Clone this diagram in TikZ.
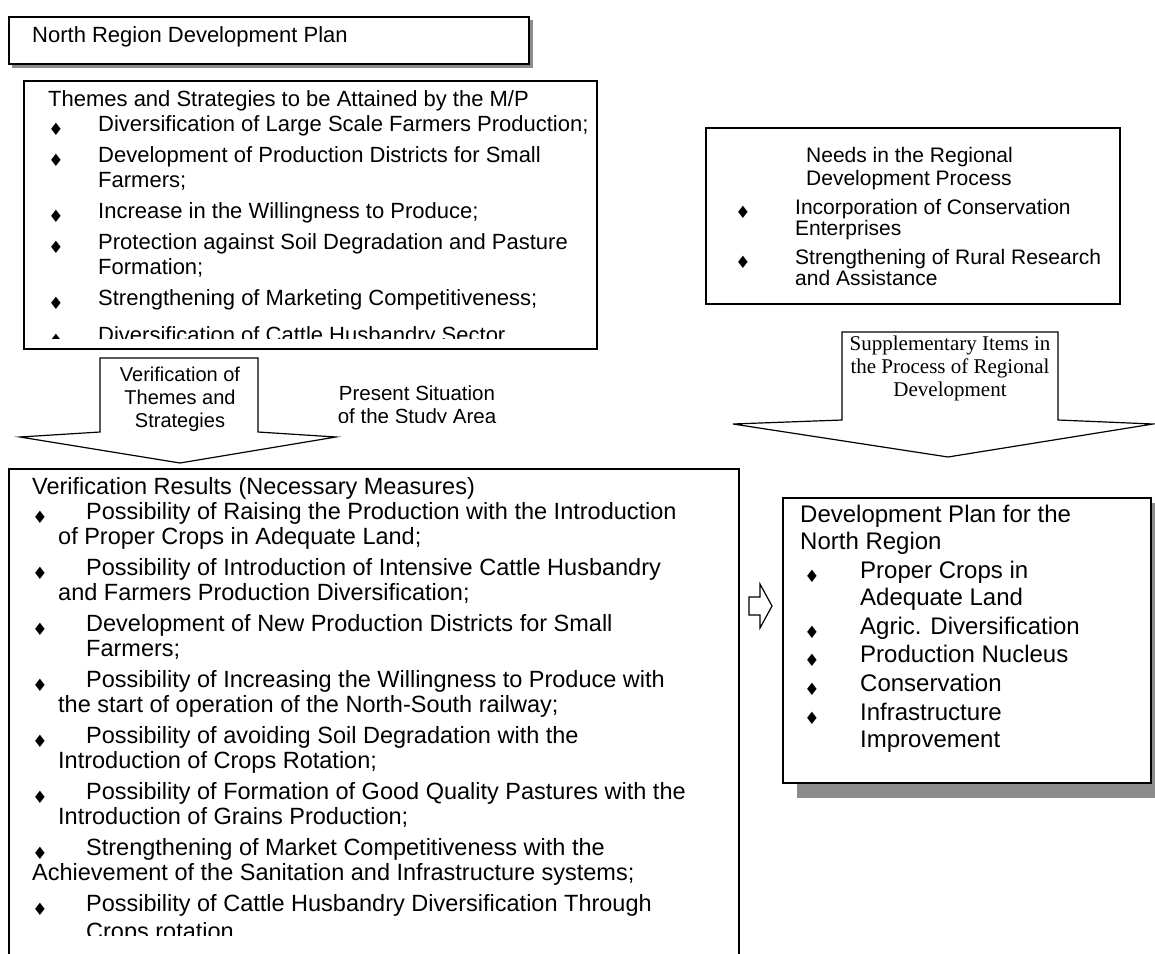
\documentclass[tikz,border=0pt]{standalone}
\usepackage{fontspec}
\setmainfont{Liberation Sans}
\newfontfamily\serifff{Liberation Serif}
\newfontfamily\symff{DejaVu Sans}
\newcommand\dia{{\symff\fontsize{17}{17}\selectfont ♦}}
\begin{document}
\begin{tikzpicture}[x=1pt,y=-1pt,
  lbl/.style={anchor=west,inner sep=0pt,text height=0.72em,text depth=0.22em},
  clbl/.style={anchor=center,inner sep=0pt,text height=0.72em,text depth=0.22em},
  bul/.style={anchor=center,inner sep=0pt},
  boxl/.style={draw=black,line width=1.5pt,fill=white,inner sep=0pt,anchor=north west},
  shade/.style={fill=black!45},
  barrow/.style={draw=black,line width=1.2pt,fill=white,line join=miter},
]
\useasboundingbox (0,0) rectangle (1155,953);
\fill[white] (0,0) rectangle (1155,953);

% ---------- title box ----------
\fill[shade] (12,63) rectangle (533,68);
\fill[shade] (528,20) rectangle (533,68);
\node[boxl,minimum width=520pt,minimum height=47pt] (titlebox) at (8,16) {};
\begin{scope}[lbl/.append style={font=\fontsize{22}{24}\selectfont}]
\node[lbl] (titletxt) at (32,40) {North Region Development Plan};
\end{scope}

% ---------- themes box ----------
\node[boxl,minimum width=573pt,minimum height=268pt] (themes) at (23,80) {};
\begin{scope}
\clip (24,81) rectangle (595,338);
\begin{scope}[lbl/.append style={font=\fontsize{22}{24}\selectfont}]
\node[lbl] (th0) at (48,104) {Themes and Strategies to be Attained by the M/P};
\node[bul] (tb1) at (56,129) {\dia};
\node[lbl] (th1) at (98,129) {Diversification of Large Scale Farmers Production;};
\node[bul] (tb2) at (56,160) {\dia};
\node[lbl] (th2) at (98,160) {Development of Production Districts for Small};
\node[lbl] (th2b) at (98,185) {Farmers;};
\node[bul] (tb3) at (56,216) {\dia};
\node[lbl] (th3) at (98,216) {Increase in the Willingness to Produce;};
\node[bul] (tb4) at (56,247) {\dia};
\node[lbl] (th4) at (98,247) {Protection against Soil Degradation and Pasture};
\node[lbl] (th4b) at (98,272) {Formation;};
\node[bul] (tb5) at (56,303) {\dia};
\node[lbl] (th5) at (98,303) {Strengthening of Marketing Competitiveness;};
\node[bul] (tb6) at (56,340) {\dia};
\node[lbl] (th6) at (98,340) {Diversification of Cattle Husbandry Sector};
\end{scope}
\end{scope}

% ---------- needs box ----------
\node[boxl,minimum width=414pt,minimum height=176pt] (needs) at (705,127) {};
\begin{scope}[lbl/.append style={font=\fontsize{21}{22}\selectfont}]
\node[lbl] (nd0) at (806,160) {Needs in the Regional};
\node[lbl] (nd0b) at (806,183) {Development Process};
\node[bul] (nb1) at (743,212) {\dia};
\node[lbl] (nd1) at (795,212) {Incorporation of Conservation};
\node[lbl] (nd1b) at (795,233) {Enterprises};
\node[bul] (nb2) at (743,262) {\dia};
\node[lbl] (nd2) at (795,262) {Strengthening of Rural Research};
\node[lbl] (nd2b) at (795,283) {and Assistance};
\end{scope}

% ---------- verification results box ----------
\node[boxl,minimum width=730pt,minimum height=500pt] (verif) at (8,468) {};
\begin{scope}
\clip (9,469) rectangle (737,935);
\begin{scope}[lbl/.append style={font=\fontsize{23.5}{25}\selectfont}]
\node[lbl] (v0) at (32,492) {Verification Results (Necessary Measures)};
\node[bul] (vb1) at (40,517) {\dia};
\node[lbl] (v1) at (86,517) {Possibility of Raising the Production with the Introduction};
\node[lbl] (v1b) at (58,542) {of Proper Crops in Adequate Land;};
\node[bul] (vb2) at (40,573) {\dia};
\node[lbl] (v2) at (86,573) {Possibility of Introduction of Intensive Cattle Husbandry};
\node[lbl] (v2b) at (58,598) {and Farmers Production Diversification;};
\node[bul] (vb3) at (40,629) {\dia};
\node[lbl] (v3) at (86,629) {Development of New Production Districts for Small};
\node[lbl] (v3b) at (86,654) {Farmers;};
\node[bul] (vb4) at (40,685) {\dia};
\node[lbl] (v4) at (86,685) {Possibility of Increasing the Willingness to Produce with};
\node[lbl] (v4b) at (58,710) {the start of operation of the North-South railway;};
\node[bul] (vb5) at (40,741) {\dia};
\node[lbl] (v5) at (86,741) {Possibility of avoiding Soil Degradation with the};
\node[lbl] (v5b) at (58,766) {Introduction of Crops Rotation;};
\node[bul] (vb6) at (40,797) {\dia};
\node[lbl] (v6) at (86,797) {Possibility of Formation of Good Quality Pastures with the};
\node[lbl] (v6b) at (58,822) {Introduction of Grains Production;};
\node[bul] (vb7) at (40,853) {\dia};
\node[lbl] (v7) at (86,853) {Strengthening of Market Competitiveness with the};
\node[lbl] (v7b) at (32,878) {Achievement of the Sanitation and Infrastructure systems;};
\node[bul] (vb8) at (40,909) {\dia};
\node[lbl] (v8) at (86,909) {Possibility of Cattle Husbandry Diversification Through};
\node[lbl] (v8b) at (86,937) {Crops rotation};
\end{scope}
\end{scope}

% ---------- development plan box ----------
\fill[shade] (797,782) rectangle (1155,798);
\fill[shade] (1150,503) rectangle (1155,798);
\node[boxl,minimum width=368pt,minimum height=285pt] (devplan) at (782,497) {};
\begin{scope}[lbl/.append style={font=\fontsize{24}{26}\selectfont}]
\node[lbl] (d0) at (800,520) {Development Plan for the};
\node[lbl] (d0b) at (800,547) {North Region};
\node[bul] (db1) at (812,576) {\dia};
\node[lbl] (d1) at (860,576) {Proper Crops in};
\node[lbl] (d1b) at (860,603) {Adequate Land};
\node[bul] (db2) at (812,632) {\dia};
\node[lbl] (d2) at (860,632) {Agric. Diversification};
\node[bul] (db3) at (812,660) {\dia};
\node[lbl] (d3) at (860,660) {Production Nucleus};
\node[bul] (db4) at (812,689) {\dia};
\node[lbl] (d4) at (860,689) {Conservation};
\node[bul] (db5) at (812,718) {\dia};
\node[lbl] (d5) at (860,718) {Infrastructure};
\node[lbl] (d5b) at (860,745) {Improvement};
\end{scope}

% ---------- block arrow 1 ----------
\draw[barrow] (100,358) -- (258,358) -- (258,432) -- (336,437) -- (180,463)
  -- (20,437) -- (100,432) -- cycle;
\begin{scope}[clbl/.append style={font=\fontsize{20}{21}\selectfont}]
\node[clbl] (a1t1) at (180,379) {Verification of};
\node[clbl] (a1t2) at (180,402) {Themes and};
\node[clbl] (a1t3) at (180,425) {Strategies};
\end{scope}

% ---------- present situation ----------
\begin{scope}
\clip (320,360) rectangle (530,422);
\begin{scope}[clbl/.append style={font=\fontsize{20.5}{21}\selectfont}]
\node[clbl] (ps1) at (417,398) {Present Situation};
\node[clbl] (ps2) at (417,421) {of the Study Area};
\end{scope}
\end{scope}

% ---------- block arrow 2 ----------
\draw[barrow] (842,332) -- (1058,332) -- (1058,420) -- (1153,424) -- (948,457)
  -- (733,424) -- (842,420) -- cycle;
\begin{scope}[clbl/.append style={font=\serifff\fontsize{21}{22}\selectfont}]
\node[clbl] (a2t1) at (950,348) {Supplementary Items in};
\node[clbl] (a2t2) at (950,371) {the Process of Regional};
\node[clbl] (a2t3) at (950,394) {Development};
\end{scope}

% ---------- small outline arrow ----------
\draw[draw=black,line width=1.2pt,fill=white] (749,597) -- (760,597) -- (760,584)
  -- (772,606) -- (760,628) -- (760,615) -- (749,615) -- cycle;
\end{tikzpicture}
\end{document}
